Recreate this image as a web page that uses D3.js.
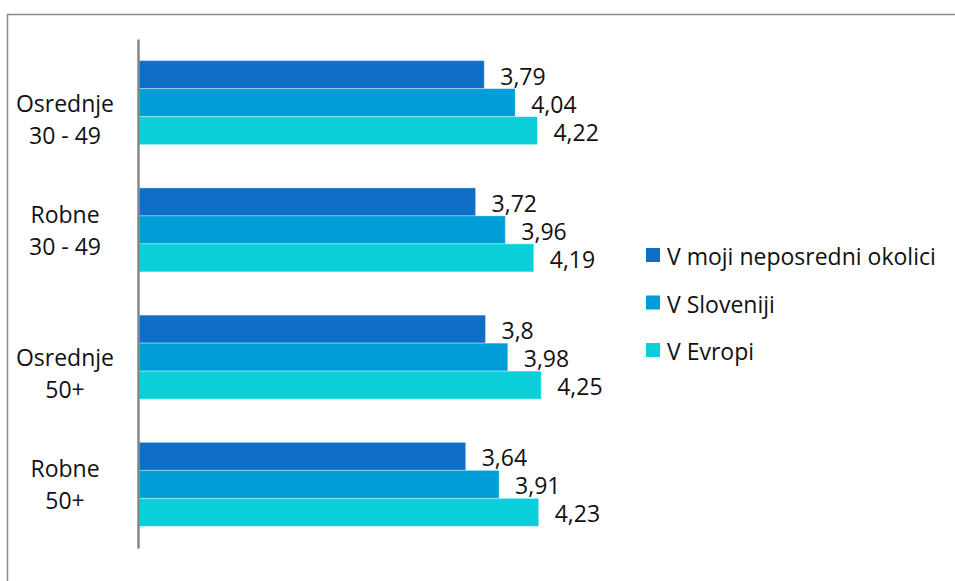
<!DOCTYPE html>
<html><head><meta charset="utf-8">
<script src="https://cdn.jsdelivr.net/npm/d3@7"></script>
<style>html,body{margin:0;padding:0;background:#fff;}svg{display:block;}</style>
</head><body>
<script>
const categories = ["Osrednje 30 - 49", "Robne 30 - 49", "Osrednje 50+", "Robne 50+"];
const categoryLines = [["", "Osrednje", "30 - 49"], ["Robne", "30 - 49"], ["", "Osrednje", "50+"], ["Robne", "50+"]];
const seriesNames = ["V moji neposredni okolici", "V Sloveniji", "V Evropi"];
const seriesColors = ["#0F6FC6", "#009DD9", "#0BD0D9"];
const valuesOkolica = [3.79, 3.72, 3.80, 3.64];
const valuesSlovenija = [4.04, 3.96, 3.98, 3.91];
const valuesEvropa = [4.22, 4.19, 4.25, 4.23];
const seriesValues = [valuesOkolica, valuesSlovenija, valuesEvropa];
const xDomain = [1, 5];

const W = 955, H = 581;
const font = "'Open Sans', sans-serif";
const fs = 23;
const svg = d3.select("body").append("svg").attr("width", W).attr("height", H);

// outer frame
svg.append("rect").attr("x", 7.5).attr("y", 14.5).attr("width", W + 10).attr("height", H + 10)
  .attr("fill", "none").attr("stroke", "#8a8a8a").attr("stroke-width", 1.5);

const x = d3.scaleLinear().domain(xDomain).range([139, 634]);
const y = d3.scaleBand().domain(categories).range([39, 548]).paddingInner(0.34).paddingOuter(0.17);
const ys = d3.scaleBand().domain(d3.range(seriesNames.length)).range([0, y.bandwidth()]);

const g = svg.append("g");
seriesValues.forEach((vals, si) => {
  g.selectAll(".bar" + si).data(vals).enter().append("rect")
    .attr("x", x(xDomain[0]))
    .attr("y", (d, i) => y(categories[i]) + ys(si))
    .attr("width", d => x(d) - x(xDomain[0]))
    .attr("height", ys.bandwidth())
    .attr("fill", seriesColors[si])
    .attr("stroke", "#ffffff").attr("stroke-opacity", 0.35).attr("stroke-width", 1);
  g.selectAll(".lab" + si).data(vals).enter().append("text")
    .attr("x", d => x(d) + 16)
    .attr("y", (d, i) => y(categories[i]) + ys(si) + ys.bandwidth() / 2 + 1)
    .attr("dominant-baseline", "central")
    .attr("font-family", font).attr("font-size", fs).attr("fill", "#111")
    .text(d => d3.format(".2~f")(d).replace(".", ","));
});

// axis line (left category axis)
const yAxis = d3.axisLeft(y).tickSize(0).tickFormat("");
const ax = svg.append("g").attr("transform", "translate(138,0)").call(yAxis);
ax.select(".domain").attr("stroke", "#868686").attr("stroke-width", 2.5);

// category labels
categories.forEach((c, i) => {
  const lines = categoryLines[i];
  const cy = y(c) + y.bandwidth() / 2;
  const lh = 32;
  lines.forEach((ln, li) => {
    svg.append("text")
      .attr("x", 65)
      .attr("y", cy + (li - (lines.length - 1) / 2) * lh)
      .attr("text-anchor", "middle").attr("dominant-baseline", "central")
      .attr("font-family", font).attr("font-size", fs).attr("fill", "#111")
      .text(ln);
  });
});

// legend
const legY = d3.scalePoint().domain(seriesNames).range([255, 350]);
const leg = svg.append("g");
seriesNames.forEach((s, i) => {
  leg.append("rect").attr("x", 646).attr("y", legY(s) - 7).attr("width", 14).attr("height", 14)
    .attr("fill", seriesColors[i]);
  leg.append("text").attr("x", 667).attr("y", legY(s) + 1).attr("dominant-baseline", "central")
    .attr("font-family", font).attr("font-size", fs).attr("fill", "#111").text(s);
});
</script>
</body></html>
